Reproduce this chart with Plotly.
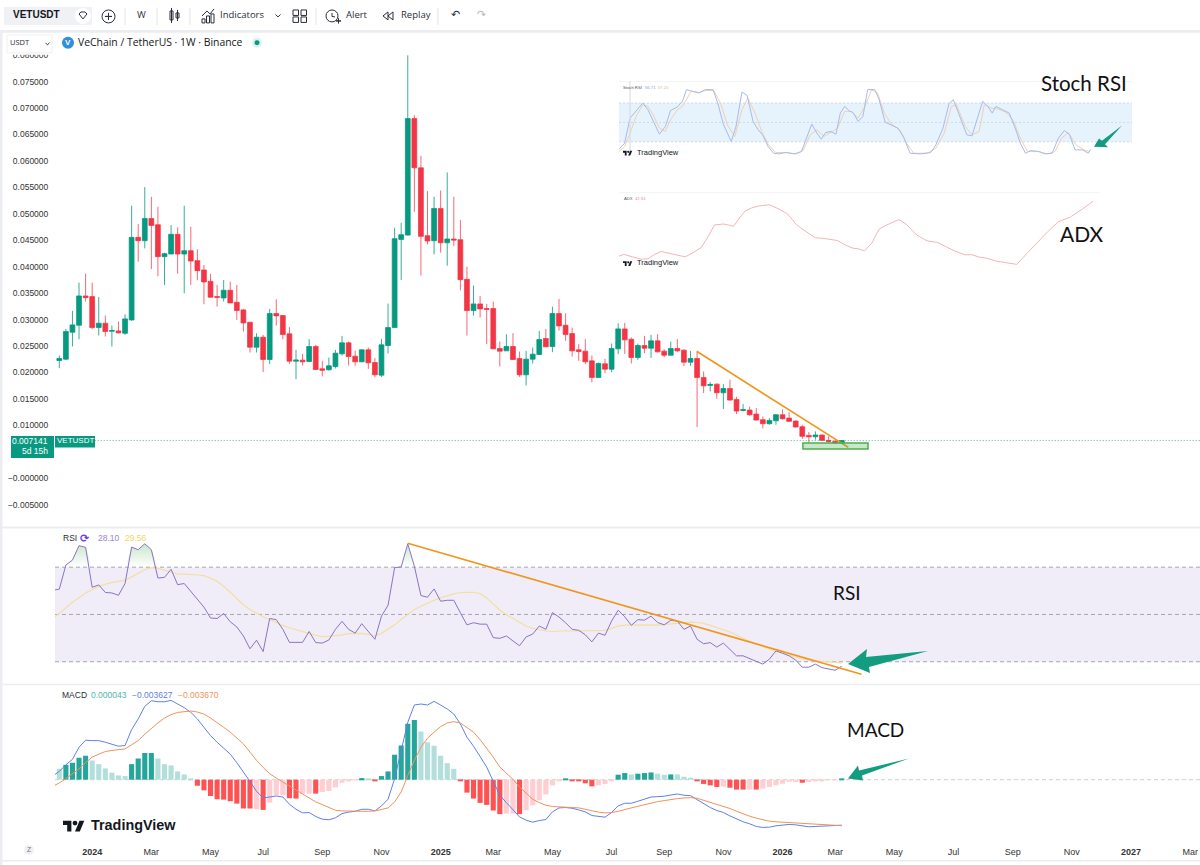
import plotly.graph_objects as go

W, H = 1200, 865

# weekly candles, bar 0 is late Nov 2023
opens = [
    .02227, .02252, .02761, .02893, .03447, .03434, .02849, .02931, .02780, .02786,
    .02742, .02994, .04554, .04491, .04912, .04793, .04189, .04239, .04611, .04239,
    .04302, .04114, .03938, .03724, .03434, .03409, .03554, .03327, .03183, .02950,
    .02478, .02667, .02246, .03114, .03076, .02730, .02214, .02233, .02208, .02491,
    .02069, .02051, .02113, .02352, .02560, .02308, .02202, .02428, .02189, .01950,
    .02510, .02849, .04516, .04598, .06799, .05869, .04585, .04491, .05101, .04453,
    .04523, .04510, .03761, .03170, .03296, .03208, .03208, .02453, .02409, .02491,
    .02264, .01956, .02252, .02340, .02642, .02491, .03114, .02893, .02736, .02428,
    .02403, .02220, .01906, .02164, .02063, .02447, .02824, .02629, .02283, .02510,
    .02459, .02598, .02403, .02327, .02453, .02422, .02195, .02264, .01906, .01755,
    .01780, .01617, .01698, .01491, .01283, .01289, .01214, .01107, .01032, .01088,
    .01201, .01138, .01082, .00975, .00811, .00786, .00818, .00717, .00698, .00667,
]
highs = [
    .02321, .02824, .03164, .03699, .03868, .03699, .03428, .03076, .02887, .02963,
    .03101, .05152, .04806, .05504, .05321, .05133, .04265, .04787, .04743, .05152,
    .04755, .04328, .04032, .03862, .03654, .03749, .03717, .03654, .03202, .02950,
    .02742, .02711, .03202, .03384, .03088, .02856, .02428, .02352, .02629, .02522,
    .02220, .02283, .02428, .02692, .02585, .02415, .02441, .02472, .02271, .02636,
    .03302, .04736, .04831, .07995, .06862, .06095, .05428, .05321, .05441, .05781,
    .05321, .04881, .04000, .03642, .03447, .03296, .03340, .02585, .02724, .02742,
    .02396, .02409, .02472, .02786, .02824, .03246, .03390, .03120, .02849, .02535,
    .02629, .02321, .02189, .02258, .02547, .02931, .02937, .02661, .02547, .02692,
    .02711, .02724, .02441, .02585, .02629, .02441, .02409, .02409, .02019, .01818,
    .01793, .01780, .01862, .01541, .01403, .01352, .01327, .01170, .01138, .01214,
    .01302, .01245, .01094, .01013, .00874, .00887, .00824, .00793, .00730, .00725,
]
lows = [
    .02082, .02239, .02491, .02629, .03340, .02818, .02698, .02680, .02491, .02736,
    .02711, .02975, .04095, .04346, .03956, .03818, .03654, .04239, .03868, .03497,
    .03654, .03743, .03290, .03416, .03246, .03340, .03309, .02994, .02774, .02378,
    .02378, .02007, .02157, .02887, .02629, .02164, .01874, .02132, .02195, .02051,
    .01925, .02038, .02076, .02321, .02132, .02126, .02195, .02069, .01912, .01912,
    .02359, .02849, .03749, .04585, .05038, .03831, .04422, .04233, .04265, .04019,
    .04390, .03554, .02698, .03076, .03038, .02535, .02447, .02113, .02409, .02233,
    .01918, .01755, .02170, .02334, .02485, .02384, .02793, .02598, .02302, .02220,
    .02157, .01812, .01906, .01988, .02007, .02346, .02352, .02170, .02239, .02365,
    .02277, .02378, .02290, .02327, .02384, .02120, .02126, .00969, .01610, .01642,
    .01503, .01308, .01466, .01214, .01264, .01183, .01094, .00944, .01013, .01013,
    .01107, .01063, .00962, .00742, .00673, .00730, .00711, .00673, .00654, .00648,
]
closes = [
    .02264, .02774, .02900, .03447, .03415, .02849, .02931, .02774, .02793, .02749,
    .03013, .04554, .04491, .04912, .04780, .04189, .04246, .04611, .04239, .04302,
    .04107, .03925, .03711, .03422, .03422, .03554, .03315, .03170, .02937, .02478,
    .02667, .02246, .03114, .03070, .02717, .02214, .02233, .02202, .02491, .02057,
    .02044, .02126, .02365, .02560, .02302, .02202, .02428, .02183, .01956, .02522,
    .02849, .04529, .04604, .06799, .05869, .04573, .04485, .05101, .04453, .04523,
    .04504, .03755, .03170, .03296, .03202, .03195, .02447, .02403, .02491, .02246,
    .01956, .02252, .02346, .02623, .02485, .03114, .02881, .02717, .02409, .02396,
    .02202, .01906, .02170, .02063, .02453, .02824, .02617, .02283, .02510, .02459,
    .02598, .02390, .02327, .02453, .02409, .02195, .02264, .01906, .01749, .01774,
    .01617, .01698, .01478, .01271, .01296, .01201, .01101, .01032, .01094, .01201,
    .01126, .01076, .00969, .00793, .00786, .00818, .00717, .00698, .00667, .00714,
]
# 0.005 sits behind the price tag in the reference, so it has no label
price_ticks = [-.005, 0, .01, .015, .02, .025, .03, .035, .04, .045, .05, .055, .06, .065, .07, .075, .08]
price_tick_text = [
    "−0.005000", "−0.000000", "0.010000", "0.015000", "0.020000",
    "0.025000", "0.030000", "0.035000", "0.040000", "0.045000", "0.050000",
    "0.055000", "0.060000", "0.065000", "0.070000", "0.075000", "0.080000",
]
time_tick_bars = [5, 14, 23, 31, 40, 49, 58, 66, 75, 84, 92, 101, 110, 118, 127, 136, 145, 154, 163, 172]
time_tick_text = [
    "<b>2024</b>", "Mar", "May", "Jul", "Sep", "Nov", "<b>2025</b>", "Mar", "May", "Jul",
    "Sep", "Nov", "<b>2026</b>", "Mar", "May", "Jul", "Sep", "Nov", "<b>2027</b>", "Mar",
]

price_trend_bars = [97, 120]
price_trend = [.02396, .00585]
zone_bars = [113.1, 123]
zone_prices = [.00552, .00666]

# RSI and MACD lines start one bar before the first candle
rsi = [
    60.2, 60.7, 70.9, 73.0, 79.1, 78.4, 61.5, 62.5, 59.3, 59.1, 58.1,
    63.1, 78.5, 77.4, 79.9, 77.4, 65.4, 65.7, 69.1, 62.6, 63.1,
    59.8, 56.7, 53.1, 48.5, 48.3, 50.4, 46.9, 44.7, 40.9, 35.5,
    39.1, 34.3, 48.3, 47.8, 43.7, 38.2, 38.2, 38.2, 42.8, 38.1,
    37.9, 39.2, 43.7, 47.1, 43.7, 42.1, 46.1, 42.6, 39.5, 49.3,
    53.9, 69.8, 70.1, 79.9, 70.4, 58.0, 57.3, 60.8, 55.6, 56.0,
    56.0, 50.7, 45.6, 46.5, 45.9, 45.9, 40.2, 39.9, 40.9, 38.8,
    36.8, 40.5, 41.7, 45.1, 43.7, 50.8, 48.9, 46.5, 43.7, 43.3,
    41.4, 38.4, 42.1, 41.2, 47.2, 51.8, 49.0, 45.4, 47.8, 47.6,
    49.3, 46.6, 45.6, 47.5, 47.2, 43.7, 45.1, 39.5, 37.6, 38.1,
    36.2, 37.9, 35.3, 32.5, 32.5, 31.3, 30.1, 29.0, 31.1, 34.6,
    33.6, 32.5, 30.7, 27.7, 27.7, 29.0, 27.5, 26.8, 26.4, 28.1,
]
rsi_ma = [
    48.2, 50.4, 52.8, 55.2, 57.3, 59.1, 60.5, 61.9, 62.8, 63.6, 64.0,
    64.5, 65.9, 67.5, 68.9, 69.8, 69.5, 68.7, 67.8, 67.1, 67.1,
    67.0, 66.7, 66.4, 65.4, 64.0, 61.9, 59.4, 56.7, 54.1, 52.1,
    50.4, 49.0, 47.9, 46.5, 45.4, 44.4, 43.5, 42.7, 42.0, 41.2,
    40.6, 40.7, 40.9, 41.4, 41.9, 42.0, 42.0, 41.6, 40.9, 42.0,
    43.7, 45.6, 47.9, 50.1, 52.1, 53.5, 54.9, 56.0, 57.0, 58.0,
    58.7, 59.3, 59.5, 59.4, 58.8, 57.0, 54.5, 51.8, 49.9, 48.2,
    46.5, 45.1, 44.1, 43.4, 43.0, 42.8, 43.0, 43.1, 43.0, 43.0,
    43.0, 43.0, 43.1, 43.3, 44.1, 45.1, 45.5, 45.6, 45.6, 45.6,
    45.6, 45.5, 45.8, 46.1, 46.5, 46.6, 46.8, 46.6, 46.2, 45.4,
    44.4, 43.5, 42.6, 41.2, 39.8, 38.6, 37.5, 36.4, 35.3, 34.4,
    33.6, 32.7, 31.9, 31.2, 30.6, 30.4, 30.1, 29.9, 29.9, 29.56,
]
rsi_levels = [70, 50, 30]
rsi_trend_bars = [53, 122]
rsi_trend = [80.1, 24.7]

macd = [
    .00029, .00066, .00119, .00162, .00259, .00315, .00312, .00312, .00299, .00286, .00267,
    .00273, .00400, .00485, .00585, .00630, .00622, .00622, .00633, .00604, .00575,
    .00537, .00485, .00418, .00352, .00299, .00254, .00204, .00135, .00066, -.00013,
    -.00093, -.00146, -.00138, -.00130, -.00138, -.00196, -.00236, -.00265, -.00262, -.00294,
    -.00315, -.00320, -.00304, -.00270, -.00259, -.00252, -.00236, -.00236, -.00249, -.00209,
    -.00156, .00008, .00233, .00458, .00596, .00604, .00596, .00625, .00596, .00564,
    .00524, .00445, .00339, .00267, .00185, .00101, -.00013, -.00124, -.00183, -.00244,
    -.00297, -.00323, -.00339, -.00326, -.00318, -.00257, -.00225, -.00222, -.00228, -.00241,
    -.00257, -.00286, -.00291, -.00299, -.00262, -.00209, -.00188, -.00188, -.00172, -.00156,
    -.00138, -.00135, -.00132, -.00122, -.00114, -.00124, -.00127, -.00159, -.00191, -.00222,
    -.00246, -.00262, -.00289, -.00315, -.00336, -.00352, -.00373, -.00381, -.00379, -.00368,
    -.00363, -.00357, -.00360, -.00371, -.00376, -.00373, -.00371, -.00368, -.00365, -.00363,
]
macd_signal = [
    -.00053, -.00026, .00008, .00045, .00087, .00135, .00180, .00204, .00225, .00233, .00241,
    .00246, .00278, .00312, .00363, .00410, .00453, .00492, .00519, .00537, .00545,
    .00548, .00540, .00524, .00492, .00458, .00418, .00379, .00334, .00286, .00220,
    .00154, .00098, .00048, .00013, -.00019, -.00053, -.00085, -.00119, -.00151, -.00177,
    -.00199, -.00222, -.00244, -.00249, -.00252, -.00252, -.00252, -.00252, -.00249, -.00238,
    -.00225, -.00177, -.00098, .00034, .00154, .00259, .00331, .00379, .00424, .00453,
    .00463, .00453, .00418, .00379, .00320, .00254, .00180, .00101, .00053, .00003,
    -.00058, -.00111, -.00156, -.00183, -.00204, -.00214, -.00217, -.00217, -.00222, -.00225,
    -.00236, -.00249, -.00259, -.00265, -.00262, -.00252, -.00236, -.00225, -.00212, -.00199,
    -.00185, -.00175, -.00167, -.00156, -.00151, -.00146, -.00143, -.00148, -.00164, -.00177,
    -.00193, -.00209, -.00230, -.00252, -.00273, -.00291, -.00307, -.00320, -.00331, -.00336,
    -.00339, -.00342, -.00344, -.00349, -.00355, -.00357, -.00360, -.00363, -.00363, -.00367,
]
macd_hist = [
    .00087, .00119, .00135, .00175, .00191, .00154, .00124, .00090, .00056, .00034,
    .00029, .00124, .00169, .00212, .00212, .00169, .00124, .00114, .00066, .00042,
    .00003, -.00048, -.00085, -.00130, -.00156, -.00159, -.00172, -.00191, -.00230, -.00230,
    -.00236, -.00241, -.00183, -.00124, -.00124, -.00148, -.00151, -.00111, -.00111, -.00111,
    -.00098, -.00090, -.00061, -.00024, -.00011, -.00005, .00013, .00011, -.00008, .00029,
    .00066, .00199, .00273, .00447, .00477, .00384, .00299, .00270, .00191, .00132,
    .00087, -.00011, -.00103, -.00151, -.00185, -.00201, -.00246, -.00275, -.00270, -.00270,
    -.00275, -.00244, -.00204, -.00164, -.00117, -.00045, -.00011, .00005, -.00013, -.00013,
    -.00029, -.00053, -.00045, -.00034, -.00008, .00040, .00053, .00042, .00048, .00053,
    .00058, .00048, .00040, .00042, .00042, .00024, .00016, -.00013, -.00034, -.00045,
    -.00058, -.00056, -.00064, -.00079, -.00079, -.00079, -.00079, -.00071, -.00058, -.00045,
    -.00032, -.00016, -.00019, -.00024, -.00019, -.00011, -.00008, -.00005, -.00005, .00006,
]
# D = strong bar, L = faded bar
macd_shade = (
    "LDDDDLLLLLLDDDDLLLLL" "LDDDDDDDDDLDLLLDDLLD" "LLLLLLDLDDDDDDDLLLLL"
    "LDDDDDDDLLDLLLLLLDDD" "DDLLLDDLDDDLLDLLLDDD" "DLDDDLDLLLLLLDLLLLLD"
)

# the two pasted insets have their own bar count
stoch_k_bars = [
    0, 1.4, 2.8, 4.3, 6, 7.3, 8.6, 10.2, 11.7, 13, 14.7, 16, 17, 18.6, 20.2, 21.7, 23.7, 24.9,
    26.3, 28.3, 29.5, 31, 32.3, 33.8, 35.1, 36.2, 37.6, 39, 40.3, 42.1, 44.3, 46, 47.3, 48.6,
    49.9, 51, 52.1, 53.4, 54.7, 55.8, 56.9, 58.2, 59, 60.3, 61.5, 62.7, 64.5, 65.6, 67.1, 68.6,
    70.3, 71.7, 73.4, 76, 78.6, 79.9, 81.7, 83.2, 84.3, 85.6, 87.7, 89, 90.3, 91.7, 93, 94.1,
    95, 96.9, 98.4, 99.9, 101.2, 102.5, 103.8, 106, 107.3, 109.2, 110.8, 112.3, 113.6, 115,
    116.9, 118.3, 119,
]
stoch_k = [
    8.6, 17.9, 56.7, 68.1, 80, 69.6, 51.6, 31.9, 43.8, 68.6, 73.8, 82.6, 100.7, 98.1, 95.5, 100.7, 100.7, 80,
    47.4, 20.5, 43.8, 97, 91.9, 51.6, 38.6, 30.9, 12.8, 2.4, 1.4, 3.5, 1.4, 5, 25.7, 47.4,
    33.5, 24.2, 34.5, 36, 31.9, 64.5, 74.8, 67.1, 65.5, 51.6, 59.3, 100.7, 100.7, 85.2, 50.5, 46.4,
    41.2, 28.3, 2.4, 1.4, 3.5, 15.4, 41.2, 79, 85.2, 64.5, 30.9, 29.3, 54.1, 82.6, 74.8, 64.5,
    74.8, 68.6, 64.5, 41.2, 17.9, 2.4, 6.6, 5, 1.4, 2.4, 25.7, 37.6, 30.9, 7.6,
    7.6, 2.4, 8.6,
]
stoch_d_bars = [
    0, 1.4, 2.8, 4.3, 6, 7.3, 8.6, 10.2, 11.7, 13, 14.7, 16, 18.2, 20.2, 22.1, 23.9, 25.6, 27.3,
    29.2, 31, 32.5, 34.3, 36, 37.7, 39.5, 42.1, 44.7, 46.4, 48.2, 49.9, 51.7, 53.4, 55.1, 56.9,
    58.6, 60.3, 62, 63.7, 65.2, 66.9, 68.6, 70.8, 72.5, 74.3, 77.7, 79.9, 82, 83.8, 85.1, 87.3,
    89, 90.8, 92.1, 93.8, 95.6, 97.7, 99.5, 101.2, 103, 105.6, 108.2, 109.9, 111.6, 113.3,
    115.2, 117.3, 118.6,
]
stoch_d = [
    5, 12.8, 33.5, 59.3, 77.4, 74.8, 61.9, 41.2, 36, 54.1, 69.6, 74.8, 98.1, 96.5, 99.6, 99.1, 80, 46.4,
    28.3, 69.6, 87.7, 64.5, 36, 15.4, 3.5, 3.5, 1.4, 6.6, 30.9, 38.6, 28.3, 34.5, 41.2, 67.1,
    67.1, 56.7, 74.8, 100.7, 95.5, 64.5, 47.9, 38.6, 17.9, 2.4, 2.4, 10.2, 33.5, 74.8, 77.4, 43.8,
    30.9, 36, 77.4, 72.2, 70.7, 65.5, 51.6, 25.7, 5, 5, 1.4, 5, 25.7, 34.5,
    15.4, 7.6, 5,
]
stoch_levels = [80, 50, 20]

adx_bars = [
    0, 1.2, 3.4, 5.6, 7.3, 9, 10.6, 13.4, 16.7, 18.6, 20.8, 22.5, 24.1, 26.4, 28.9, 30.1, 31.7, 33.4,
    35.1, 37.9, 40.3, 42.5, 44.7, 46.4, 49.5, 51.2, 53.4, 55.1, 57.3, 59, 60.3, 61.9, 63.8, 65.6,
    67.3, 70.6, 72.5, 75.1, 77.7, 80.3, 82.5, 84.7, 87.3, 89, 90.8, 92.5, 95.1, 97.7, 100.3, 103,
    105.6, 108.2, 110.8, 113.8, 116.9, 119.5,
]
adx = [
    14.5, 15.4, 14.1, 12.9, 13.1, 15.4, 16.9, 15.5, 14.1, 16.2, 19.1, 24.8, 30.7, 31.2, 30.0, 33.5, 37.8, 39.5,
    40.5, 41.2, 39.0, 36.4, 30.9, 28.3, 24.0, 23.8, 23.1, 22.6, 20.0, 18.6, 18.3, 17.2, 21.4, 28.6,
    30.5, 33.5, 30.9, 25.4, 22.4, 21.6, 19.3, 17.1, 15.2, 15.2, 14.0, 13.5, 11.9, 10.9, 10.2, 16.2,
    21.9, 27.4, 32.4, 34.8, 39.0, 42.94,
]

GREEN = "#089981"
RED = "#F23645"
ORANGE = "#F0961E"
ARROW = "#129C80"
INK = "#2A2E39"
BAND = "#ECEDF0"
FONT = "Liberation Sans"
UI_FONT = "Open Sans"
NOTE_FONT = "Lato"


def xfrac(x):
    return x / W


def yfrac(y):
    return 1 - y / H


shapes = []
notes = []


def box(x0, y0, x1, y1, fill=None, line=None, width=1, kind="rect"):
    shapes.append(dict(
        type=kind, xref="paper", yref="paper", layer="above",
        x0=xfrac(x0), x1=xfrac(x1), y0=yfrac(y0), y1=yfrac(y1),
        fillcolor=fill or "rgba(0,0,0,0)",
        line=dict(color=line or "rgba(0,0,0,0)", width=width if line else 0),
    ))


def poly(points, fill=None, line=None, width=1, close=True):
    parts = []
    for i, p in enumerate(points):
        parts.append(("M" if i == 0 else "L") + f"{xfrac(p[0]):.5f},{yfrac(p[1]):.5f}")
    if close:
        parts.append("Z")
    shapes.append(dict(
        type="path", xref="paper", yref="paper", layer="above",
        path=" ".join(parts),
        fillcolor=fill or "rgba(0,0,0,0)",
        line=dict(color=line or "rgba(0,0,0,0)", width=width if line else 0),
    ))


def text(x, y, s, size=9, color=INK, anchor="left", font=FONT):
    # annotations sit a bit low when centred on their box
    notes.append(dict(
        xref="paper", yref="paper", x=xfrac(x), y=yfrac(y - 1.5), text=s, showarrow=False,
        xanchor=anchor, yanchor="middle", borderpad=0,
        font=dict(family=font, size=size, color=color),
    ))


def tv_logo(x, y, scale, color="#131722"):
    # two block logo, 36 x 18 units
    def p(a, b):
        return (x + a * scale, y + b * scale)
    poly([p(0, 0), p(14, 0), p(14, 18), p(7, 18), p(7, 7), p(0, 7)], fill=color)
    poly([p(27.5, 0), p(35.5, 0), p(28, 18), p(20, 18)], fill=color)
    box(x + 16 * scale, y, x + 24 * scale, y + 8 * scale, fill=color, kind="circle")


fig = go.Figure()
bars = list(range(len(closes)))
line_bars = list(range(-1, len(closes)))

fig.add_trace(go.Candlestick(
    x=bars, open=opens, high=highs, low=lows, close=closes,
    increasing=dict(line=dict(color="rgba(8,153,129,0.8)", width=1), fillcolor=GREEN),
    decreasing=dict(line=dict(color="rgba(242,54,69,0.75)", width=1), fillcolor=RED),
    whiskerwidth=0, xaxis="x", yaxis="y", showlegend=False, hoverinfo="skip",
))
fig.add_trace(go.Scatter(
    x=[-1, 174], y=[closes[-1], closes[-1]], mode="lines",
    line=dict(color="rgba(8,153,129,0.7)", width=1, dash="1px,2px"), xaxis="x", yaxis="y",
    showlegend=False, hoverinfo="skip",
))
fig.add_trace(go.Scatter(
    x=price_trend_bars, y=price_trend, mode="lines",
    line=dict(color=ORANGE, width=1.7), xaxis="x", yaxis="y",
    showlegend=False, hoverinfo="skip",
))

# RSI pane
fig.add_trace(go.Scatter(
    x=line_bars, y=[70] * len(rsi), mode="lines", line=dict(width=0),
    xaxis="x2", yaxis="y2", showlegend=False, hoverinfo="skip",
))
fig.add_trace(go.Scatter(
    x=line_bars, y=[max(v, 70) for v in rsi], mode="lines", line=dict(width=0),
    fill="tonexty",
    fillgradient=dict(type="vertical", colorscale=[[0, "rgba(76,175,80,0)"], [1, "rgba(76,175,80,0.3)"]]),
    xaxis="x2", yaxis="y2", showlegend=False, hoverinfo="skip",
))
fig.add_trace(go.Scatter(
    x=line_bars, y=rsi_ma, mode="lines", line=dict(color="#F3DFA2", width=1.2),
    xaxis="x2", yaxis="y2", showlegend=False, hoverinfo="skip",
))
fig.add_trace(go.Scatter(
    x=line_bars, y=rsi, mode="lines", line=dict(color="#8A74C4", width=1),
    xaxis="x2", yaxis="y2", showlegend=False, hoverinfo="skip",
))
fig.add_trace(go.Scatter(
    x=rsi_trend_bars, y=rsi_trend, mode="lines", line=dict(color=ORANGE, width=1.7),
    xaxis="x2", yaxis="y2", showlegend=False, hoverinfo="skip",
))

# MACD pane
hist_colors = []
for v, s in zip(macd_hist, macd_shade):
    if v >= 0:
        hist_colors.append("#26A69A" if s == "D" else "#B2DFDB")
    else:
        hist_colors.append("#FF5252" if s == "D" else "#FFCDD2")
fig.add_trace(go.Bar(
    x=bars, y=macd_hist, width=0.78, marker=dict(color=hist_colors, line=dict(width=0)),
    xaxis="x3", yaxis="y3", showlegend=False, hoverinfo="skip",
))
fig.add_trace(go.Scatter(
    x=line_bars, y=macd, mode="lines", line=dict(color="#5F80E8", width=1),
    xaxis="x3", yaxis="y3", showlegend=False, hoverinfo="skip",
))
fig.add_trace(go.Scatter(
    x=line_bars, y=macd_signal, mode="lines", line=dict(color="#F0925A", width=1),
    xaxis="x3", yaxis="y3", showlegend=False, hoverinfo="skip",
))

# pasted Stoch RSI and ADX
fig.add_trace(go.Scatter(
    x=stoch_d_bars, y=stoch_d, mode="lines", line=dict(color="#EFD0AF", width=1),
    xaxis="x4", yaxis="y4", showlegend=False, hoverinfo="skip",
))
fig.add_trace(go.Scatter(
    x=stoch_k_bars, y=stoch_k, mode="lines", line=dict(color="#A6BBEB", width=1),
    xaxis="x4", yaxis="y4", showlegend=False, hoverinfo="skip",
))
fig.add_trace(go.Scatter(
    x=adx_bars, y=adx, mode="lines", line=dict(color="#F3B4BA", width=1),
    xaxis="x5", yaxis="y5", showlegend=False, hoverinfo="skip",
))

# level bands and dashed lines
shapes.append(dict(type="rect", xref="x2 domain", yref="y2", x0=0, x1=1, y0=30, y1=70,
                   fillcolor="#F0ECF8", line=dict(width=0), layer="below"))
for level in rsi_levels:
    shapes.append(dict(type="line", xref="x2 domain", yref="y2", x0=0, x1=1, y0=level, y1=level,
                       line=dict(color="#A5A6B0", width=1, dash="4px,3px"), layer="below"))
shapes.append(dict(type="line", xref="x3 domain", yref="y3", x0=0, x1=1, y0=0, y1=0,
                   line=dict(color="#CFD0D6", width=1, dash="4px,3px"), layer="below"))
shapes.append(dict(type="rect", xref="x4 domain", yref="y4", x0=0, x1=1, y0=20, y1=80,
                   fillcolor="#E6F2FC", line=dict(width=0), layer="below"))
for level in stoch_levels:
    shapes.append(dict(type="line", xref="x4 domain", yref="y4", x0=0, x1=1, y0=level, y1=level,
                       line=dict(color="#C8D6E2", width=0.8, dash="2px,2px"), layer="below"))
shapes.append(dict(type="rect", xref="x", yref="y", x0=zone_bars[0], x1=zone_bars[1],
                   y0=zone_prices[0], y1=zone_prices[1], fillcolor="rgba(76,175,80,0.3)",
                   line=dict(color="#4CAF50", width=1.5), layer="above"))

# window chrome
box(0, 0, W, 26, fill="white")
box(0, 26, W, 51, fill="white")
box(0, 26, W, 29, fill=BAND)
box(0, 26, 2.5, H, fill=BAND)
box(0, 525, W, 527, fill=BAND)
box(0, 683, W, 684.5, fill=BAND)
box(0, 860, W, 861.5, fill=BAND)

# toolbar
box(4, 3, 92, 21, fill="#F0F1F4", kind="rect")
text(12, 12, "<b>VETUSDT</b>", 10, "#131722")
box(75, 4, 91, 20, fill="white", kind="circle")
poly([(79, 10), (81, 8), (85, 8), (87, 10), (83, 15)], line=INK, width=1)
box(102, 6, 115, 19, line=INK, kind="circle")
box(105, 12.5, 112, 12.5, line=INK)
box(108.5, 9, 108.5, 16, line=INK)
text(141, 12, "W", 9.5, INK, "center", UI_FONT)
box(170, 7, 173, 16, line=INK)
box(176, 9, 179, 14, line=INK)
box(171.5, 4, 171.5, 19, line=INK)
box(177.5, 6, 177.5, 17, line=INK)
poly([(202, 12), (207, 7), (210, 10), (214, 5)], line=INK, close=False)
box(202, 15, 205, 19, line=INK)
box(206.5, 12, 209.5, 19, line=INK)
box(211, 10, 214, 19, line=INK)
text(219, 12, "Indicators", 9.5, INK, "left", UI_FONT)
poly([(275.5, 10.5), (278, 13), (280.5, 10.5)], line=INK, close=False)
for gx, gy in [(293, 6), (301, 6), (293, 13), (301, 13)]:
    box(gx, gy, gx + 5.5, gy + 5.5, line=INK)
box(326, 6, 338, 18, line=INK, kind="circle")
poly([(332, 9), (332, 12.5), (335, 13)], line=INK, close=False)
box(336, 17, 341, 17, line=INK)
box(338.5, 14.5, 338.5, 19.5, line=INK)
text(345, 12, "Alert", 9.5, INK, "left", UI_FONT)
poly([(388, 8), (383, 12), (388, 16)], line=INK)
poly([(393, 8), (388, 12), (393, 16)], line=INK)
text(400, 12, "Replay", 9.5, INK, "left", UI_FONT)
text(455, 12, "↶", 11, INK, "center", "DejaVu Sans")
text(481, 12, "↷", 11, "#B8BAC2", "center", "DejaVu Sans")
for sep in [125, 157, 190, 316, 438]:
    box(sep, 4, sep, 21, line="#ECEDF0")

# symbol row
box(7, 31, 52, 49, line="#EEF0F3")
text(9, 40, "USDT", 7.5, INK, "left", UI_FONT)
poly([(45.5, 39), (47.5, 41), (49.5, 39)], line=INK, close=False)
box(62, 33, 74, 45, fill="#2F8FD8", kind="circle")
text(68, 40, "<b>V</b>", 8, "white", "center", FONT)
text(77, 40, "VeChain / TetherUS · 1W · Binance", 10.4, "#131722", "left", UI_FONT)
box(252, 34, 262, 44, fill="#DDF2EE", kind="circle")
box(254.5, 36.5, 259.5, 41.5, fill=GREEN, kind="circle")

# price tags
box(11, 434, 54, 456, fill=GREEN)
box(55, 434, 95, 445.5, fill=GREEN)
text(49, 440.5, "0.007141", 8.5, "white", "right")
text(49, 451, "5d 15h", 8.5, "white", "right")
text(75, 440.5, "VETUSDT", 8, "white", "center")

# pane legends
text(62, 538, "RSI", 8.5, INK)
text(85, 538, "<b>⟳</b>", 11, "#6A3FE0", "center", "DejaVu Sans")
text(97, 538, "28.10", 8.5, "#9B86CF")
text(124, 538, "29.56", 8.5, "#F2D568")
text(61, 696, "MACD", 8.5, INK)
text(90, 696, "0.000043", 8.5, "#4DB6AC")
text(131, 696, "−0.003627", 8.5, "#5F80E8")
text(177, 696, "−0.003670", 8.5, "#F0925A")
text(622, 85.5, "Stoch RSI", 4.2, "#555")
text(644, 85.5, "56.71", 4.2, "#8AA2E2")
text(657, 85.5, "57.20", 4.2, "#E8B98C")
text(623, 196.5, "ADX", 4.2, "#555")
text(634, 196.5, "42.94", 4.2, "#F08A92")
box(619, 78, 1132, 78, line="#F4F5F7")
box(619, 189.5, 1100, 189.5, line="#F4F5F7")
box(630, 78, 630, 150, line="#DADDE3", width=0.7)

# hand written labels
text(1084, 81, "Stoch RSI", 20.5, "#111", "center", NOTE_FONT)
text(1082, 232, "ADX", 21, "#111", "center", NOTE_FONT)
text(847, 593, "RSI", 19, "#111", "center", NOTE_FONT)
text(875, 730, "MACD", 19, "#111", "center", NOTE_FONT)

# green arrows
poly([(1094, 143.5), (1099, 135), (1102, 137.5), (1122, 122), (1105, 141), (1108, 144)], fill=ARROW)
poly([(848, 663), (867, 648), (866, 656), (928, 650), (869, 666), (870, 672)], fill=ARROW)
poly([(848, 778), (858, 765), (859, 770), (909, 758), (862, 775), (863, 780)], fill=ARROW)

# logos
tv_logo(63, 820.5, 0.6)
text(89.5, 826.5, "<b>TradingView</b>", 14.4, "#131722")
tv_logo(623, 147.5, 0.26)
text(635.5, 150.5, "TradingView", 7.5, "#131722")
tv_logo(623, 258.5, 0.26)
text(635.5, 261.5, "TradingView", 7.5, "#131722")

# footer
box(24, 845, 34, 855, fill="#F0F1F4", kind="circle")
text(29, 851, "Z", 7, "#777", "center")

# pixel layout of the panes, step of a bar is 6.575 px from bar 0 at x=59.3
pane_left = 55
range_x = [(pane_left - 59.3) / 6.575, (W - 59.3) / 6.575]
inset_step = 3.966
price_zero_y = 476.5


def xdom(a, b):
    return [a / W, b / W]


def ydom(top, bottom):
    return [1 - bottom / H, 1 - top / H]


plain = dict(showgrid=False, zeroline=False, showline=False, ticks="", showticklabels=False)

fig.update_layout(
    width=W, height=H, margin=dict(l=0, r=0, t=0, b=0),
    paper_bgcolor="white", plot_bgcolor="rgba(0,0,0,0)",
    barmode="overlay", boxgap=0.27, boxgroupgap=0, showlegend=False, dragmode=False,
    font=dict(family=FONT, color=INK),
    shapes=shapes, annotations=notes,
    xaxis=dict(plain, domain=xdom(pane_left, W), range=range_x, anchor="y",
               rangeslider=dict(visible=False)),
    yaxis=dict(plain, domain=ydom(50, 525),
               range=[(price_zero_y - 525) / 5315, (price_zero_y - 50) / 5315],
               anchor="x", showticklabels=True, tickmode="array",
               tickvals=price_ticks, ticktext=price_tick_text,
               ticks="outside", ticklen=4, tickcolor="rgba(0,0,0,0)",
               tickfont=dict(family=FONT, size=8.5, color="#333")),
    xaxis2=dict(plain, domain=xdom(pane_left, W), range=range_x, anchor="y2"),
    yaxis2=dict(plain, domain=ydom(527, 683), anchor="x2",
                range=[50 - (683 - 613.3) / 2.375, 50 + (613.3 - 527) / 2.375]),
    xaxis3=dict(plain, domain=xdom(pane_left, W), range=range_x, anchor="y3",
                showticklabels=True, tickmode="array",
                tickvals=time_tick_bars, ticktext=time_tick_text,
                ticks="outside", ticklen=1, tickcolor="rgba(0,0,0,0)",
                tickfont=dict(family=FONT, size=9, color="#333")),
    yaxis3=dict(plain, domain=ydom(684.5, 842), anchor="x3",
                range=[(779.3 - 842) / 12590, (779.3 - 684.5) / 12590]),
    xaxis4=dict(plain, domain=xdom(619, 1132), range=[0, (1132 - 619) / inset_step], anchor="y4"),
    yaxis4=dict(plain, domain=ydom(70, 170), anchor="x4",
                range=[50 - (170 - 119) / 0.65, 50 + (119 - 70) / 0.65]),
    xaxis5=dict(plain, domain=xdom(619, 1100), range=[0, (1100 - 619) / inset_step], anchor="y5"),
    yaxis5=dict(plain, domain=ydom(185, 275), anchor="x5",
                range=[42.94 - (275 - 198.3) / 1.933, 42.94 + (198.3 - 185) / 1.933]),
)

fig.write_html("out.html", config={"displayModeBar": False},
               post_script="document.body.style.margin='0';")
